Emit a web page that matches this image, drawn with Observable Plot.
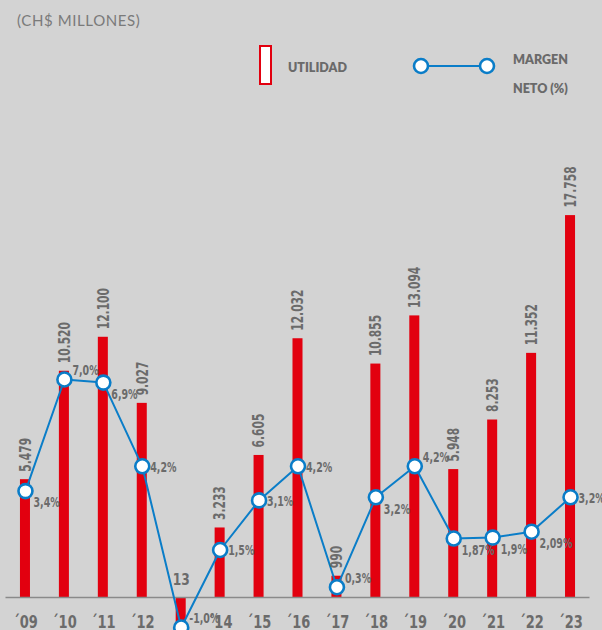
<!DOCTYPE html>
<html>
<head>
<meta charset="utf-8">
<script src="https://cdn.jsdelivr.net/npm/d3@7"></script>
<script src="https://cdn.jsdelivr.net/npm/@observablehq/plot@0.6"></script>
<style>
  html, body { margin: 0; padding: 0; background: #d3d3d3; }
  #wrap { position: relative; width: 602px; height: 630px; overflow: hidden; background: #d3d3d3; }
  #chart { position: absolute; left: 0; top: 0; }
  .title { position: absolute; left: 17px; top: 11px; font-family: Lato, "Open Sans", sans-serif; font-size: 15px; color: #7a7a7a; letter-spacing: 0.6px; }
  .leg { position: absolute; font-family: Lato, "Open Sans", sans-serif; font-weight: 800; font-size: 12.5px; color: #6a6a6a; }
  .legbar { position: absolute; left: 259px; top: 45px; width: 9px; height: 36px; background: #fff; border: 2px solid #e2000f; }
  #legline { position: absolute; left: 405px; top: 50px; }
</style>
</head>
<body>
<div id="wrap">
  <div id="chart"></div>
  <div class="title">(CH$ MILLONES)</div>
  <div class="legbar"></div>
  <div class="leg" style="left:288px; top:60px;">UTILIDAD</div>
  <svg id="legline" width="100" height="32"></svg>
  <div class="leg" style="left:513px; top:52px;">MARGEN</div>
  <div class="leg" style="left:513px; top:81px;">NETO (%)</div>
</div>
<script>
const years = ["2009","2010","2011","2012","2013","2014","2015","2016","2017","2018","2019","2020","2021","2022","2023"];
const tickLabels = ["´09","´10","´11","´12","13","´14","´15","´16","´17","´18","´19","´20","´21","´22","´23"];
const utilidad = [5479, 10520, 12100, 9027, -2150, 3233, 6605, 12032, 990, 10855, 13094, 5948, 8253, 11352, 17758];
const utilidadLabels = ["5.479","10.520","12.100","9.027","","3.233","6.605","12.032","990","10.855","13.094","5.948","8.253","11.352","17.758"];
const margen = [3.4, 7.0, 6.9, 4.2, -1.0, 1.5, 3.1, 4.2, 0.3, 3.2, 4.2, 1.87, 1.9, 2.09, 3.2];
const margenLabels = ["3,4%","7,0%","6,9%","4,2%","-1,0%","1,5%","3,1%","4,2%","0,3%","3,2%","4,2%","1,87%","1,9%","2,09%","3,2%"];
const margenLabelPos = ["below","above","below","level","above","level","level","level","above","below","above","below","below","below","level"];

const RED = "#e2000f";
const BLUE = "#0a7dc8";
const GRAY = "#6b6b6b";
const COND = "'DejaVu Sans Condensed', 'DejaVu Sans', sans-serif";

// Margin (%) shares the bars' vertical scale (stand-in for a secondary axis)
const M_SCALE = 1441.5, M_OFFSET = 46.5;

const data = years.map((y, i) => ({
  year: y,
  tick: tickLabels[i],
  utilidad: utilidad[i],
  uLabel: utilidadLabels[i],
  margen: margen[i],
  mLabel: margenLabels[i],
  mPos: margenLabelPos[i],
  mY: margen[i] * M_SCALE + M_OFFSET
}));

const dyFor = {above: -9, below: 12, level: 1};

const plot = Plot.plot({
  width: 602,
  height: 630,
  marginLeft: 5.5,
  marginRight: 12.5,
  marginTop: 0,
  marginBottom: 33,
  style: {background: "transparent", fontFamily: COND, overflow: "visible"},
  x: {type: "band", domain: years, padding: 0, round: false, axis: null},
  y: {domain: [0, 27760], axis: null},
  marks: [
    Plot.barY(data, {x: "year", y: "utilidad", fill: RED, insetLeft: 14.46, insetRight: 14.46}),
    Plot.ruleY([0], {stroke: "#8a8a8a", strokeWidth: 1.5}),
    Plot.line(data, {x: "year", y: "mY", stroke: BLUE, strokeWidth: 2}),
    Plot.dot(data, {x: "year", y: "mY", r: 7, fill: "white", stroke: BLUE, strokeWidth: 2.6}),
    Plot.text(data.filter(d => d.uLabel !== ""), {x: "year", y: "utilidad", text: "uLabel", rotate: -90, textAnchor: "start", dy: -8, fontSize: 16.5, fontWeight: "bold", fill: GRAY}),
    ...["above","below","level"].map(p =>
      Plot.text(data.filter(d => d.mPos === p), {x: "year", y: "mY", text: "mLabel", textAnchor: "start", dx: 8, dy: dyFor[p], fontSize: 13.5, fontWeight: "bold", fill: GRAY})
    ),
    Plot.text(data.filter(d => d.utilidad >= 0), {x: "year", y: () => 0, text: "tick", dy: 25, fontSize: 17, fontWeight: "bold", fill: GRAY}),
    Plot.text(data.filter(d => d.utilidad < 0), {x: "year", y: () => 0, text: "tick", dy: -18, fontSize: 16, fontWeight: "bold", fill: GRAY})
  ]
});
document.getElementById("chart").appendChild(plot);

// compress the condensed face further to mimic the narrow display font
d3.select(plot).selectAll("text").each(function() {
  const t = this.getAttribute("transform") || "";
  const s = this.textContent;
  let k;
  if (t.includes("rotate")) k = 0.72;
  else if (s.includes("%")) k = 0.78;
  else k = 0.85;
  this.setAttribute("transform", `${t} scale(${k},1)`);
});

// legend line sample
const lg = d3.select("#legline");
lg.append("line").attr("x1", 16).attr("x2", 82).attr("y1", 16).attr("y2", 16).attr("stroke", BLUE).attr("stroke-width", 2);
[16, 82].forEach(cx => lg.append("circle").attr("cx", cx).attr("cy", 16).attr("r", 7).attr("fill", "white").attr("stroke", BLUE).attr("stroke-width", 2.6));
</script>
</body>
</html>
